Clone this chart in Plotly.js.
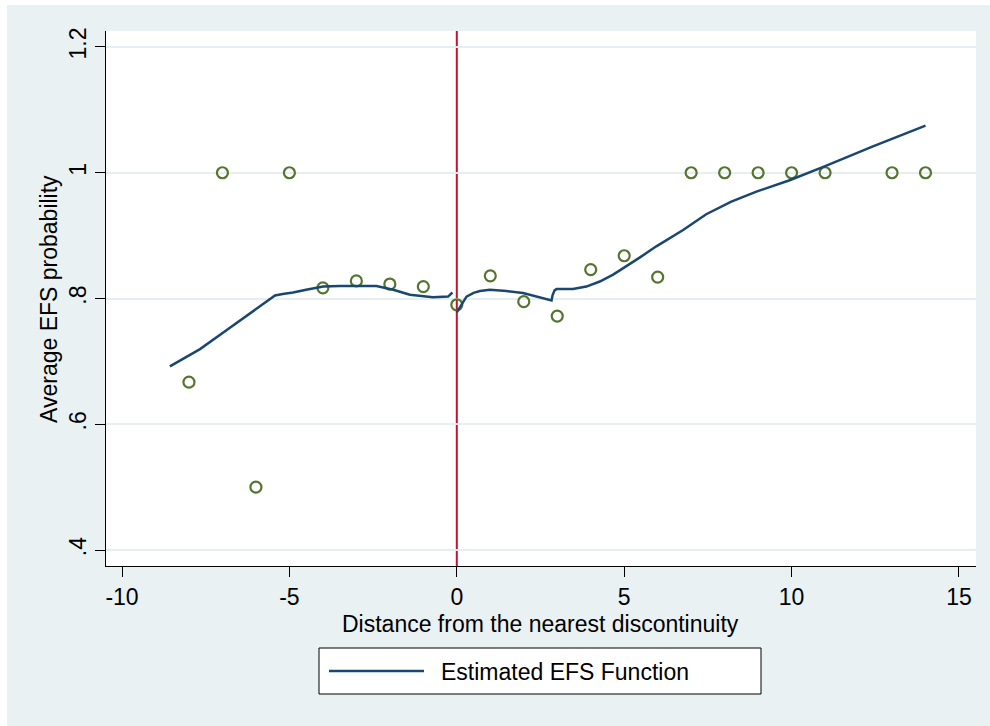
<!DOCTYPE html>
<html>
<head>
<meta charset="utf-8">
<script src="https://cdn.plot.ly/plotly-3.0.1.min.js"></script>
<style>
  html, body { margin: 0; padding: 0; background: #ffffff; }
  #chart { position: absolute; left: 7px; top: 5px; width: 983px; height: 721px; }
</style>
</head>
<body>
<div id="chart"></div>
<script>
// ---- data ----
const binX = [-8, -7, -6, -5, -4, -3, -2, -1, 0, 1, 2, 3, 4, 5, 6, 7, 8, 9, 10, 11, 13, 14];
const binY = [0.667, 1.0, 0.5, 1.0, 0.817, 0.828, 0.823, 0.819, 0.790, 0.836, 0.795, 0.772, 0.846, 0.868, 0.834, 1.0, 1.0, 1.0, 1.0, 1.0, 1.0, 1.0];

const leftX = [-8.57, -7.67, -6.87, -6.18, -5.43, -5.2, -4.89, -4.5, -3.99, -3.5, -2.99, -2.40, -1.90, -1.40, -0.71, -0.26, -0.13];
const leftY = [0.692, 0.7195, 0.750, 0.7765, 0.8047, 0.807, 0.8095, 0.814, 0.819, 0.820, 0.820, 0.820, 0.8138, 0.806, 0.802, 0.803, 0.8095];

const rightX = [0.0, 0.15, 0.29, 0.5, 0.69, 0.99, 1.48, 1.98, 2.48, 2.83, 2.86, 2.92, 2.98, 3.47, 3.87, 4.27, 4.67, 5.07, 5.46, 5.96, 6.36, 6.76, 7.45, 8.2, 8.95, 9.94, 10.93, 12.43, 14.0];
const rightY = [0.778, 0.792, 0.803, 0.809, 0.812, 0.814, 0.812, 0.8086, 0.8016, 0.797, 0.805, 0.813, 0.815, 0.815, 0.819, 0.827, 0.838, 0.851, 0.865, 0.883, 0.896, 0.909, 0.934, 0.954, 0.970, 0.988, 1.009, 1.042, 1.075];

const xTickVals = [-10, -5, 0, 5, 10, 15];
const xTickText = ['-10', '-5', '0', '5', '10', '15'];
const yTickVals = [0.4, 0.6, 0.8, 1.0, 1.2];
const yTickText = ['.4', '.6', '.8', '1', '1.2'];

const cutoff = 0;
const xTitle = 'Distance from the nearest discontinuity';
const yTitle = 'Average EFS probability';
const legendLabel = 'Estimated EFS Function';

// ---- styling ----
const NAVY = '#1A476F';
const GREEN = '#55752F';
const RED = '#C8102E';
const BG = '#E9F1F3';
const GRID = '#E6EEF1';
const FONT = 'Liberation Sans, Arial, Helvetica, sans-serif';
const FS = 23;

// plot-area geometry (page pixels) used only to place titles and the hand-drawn legend
const PL = 106, PR = 976, PT = 31, PB = 566;
const px = v => (v - PL) / (PR - PL);
const py = v => (PB - v) / (PB - PT);

const lineStyle = { color: NAVY, width: 2.5 };

const traces = [
  { x: binX, y: binY, type: 'scatter', mode: 'markers',
    marker: { symbol: 'circle-open', size: 11, color: GREEN, line: { color: GREEN, width: 2.2 } },
    showlegend: false, hoverinfo: 'x+y' },
  { x: leftX, y: leftY, type: 'scatter', mode: 'lines', line: lineStyle, name: legendLabel, showlegend: false },
  { x: rightX, y: rightY, type: 'scatter', mode: 'lines', line: lineStyle, name: legendLabel, showlegend: false }
];

const layout = {
  width: 983, height: 721,
  margin: { l: PL - 7, r: 990 - PR, t: PT - 5, b: 726 - PB, pad: 0 },
  paper_bgcolor: BG,
  plot_bgcolor: '#ffffff',
  font: { family: FONT, size: FS, color: '#000000' },
  showlegend: false,
  xaxis: {
    range: [-10.478, 15.508],
    tickmode: 'array', tickvals: xTickVals, ticktext: xTickText,
    ticks: 'outside', ticklen: 10, tickwidth: 1, tickcolor: '#000',
    showline: true, linecolor: '#000', linewidth: 1,
    showgrid: false, zeroline: false,
    tickfont: { family: FONT, size: FS, color: '#000' }
  },
  yaxis: {
    range: [0.3746, 1.2254],
    tickmode: 'array', tickvals: yTickVals, ticktext: yTickText,
    tickangle: -90,
    ticks: 'outside', ticklen: 10, tickwidth: 1, tickcolor: '#000',
    showline: true, linecolor: '#000', linewidth: 1,
    showgrid: true, gridcolor: GRID, gridwidth: 2, zeroline: false,
    tickfont: { family: FONT, size: FS, color: '#000' }
  },
  shapes: [
    { type: 'line', xref: 'x', yref: 'paper', x0: cutoff, x1: cutoff, y0: 0, y1: 1,
      line: { color: RED, width: 2 }, layer: 'below' },
    // legend frame
    { type: 'rect', xref: 'paper', yref: 'paper', x0: px(319), x1: px(761), y0: py(648), y1: py(694),
      fillcolor: '#ffffff', line: { color: '#000', width: 1 } },
    // legend line sample
    { type: 'line', xref: 'paper', yref: 'paper', x0: px(329), x1: px(424), y0: py(671), y1: py(671),
      line: { color: NAVY, width: 2.5 } }
  ],
  annotations: [
    { xref: 'paper', yref: 'paper', x: px(540), y: py(624), xanchor: 'center', yanchor: 'middle',
      text: xTitle, showarrow: false, font: { family: FONT, size: FS, color: '#000' } },
    { xref: 'paper', yref: 'paper', x: px(49), y: py(299), xanchor: 'center', yanchor: 'middle',
      textangle: -90, text: yTitle, showarrow: false, font: { family: FONT, size: FS, color: '#000' } },
    { xref: 'paper', yref: 'paper', x: px(439), y: py(672), xanchor: 'left', yanchor: 'middle',
      text: legendLabel, showarrow: false, font: { family: FONT, size: FS, color: '#000' } }
  ]
};

Plotly.newPlot('chart', traces, layout, { displayModeBar: false, staticPlot: true });
</script>
</body>
</html>
